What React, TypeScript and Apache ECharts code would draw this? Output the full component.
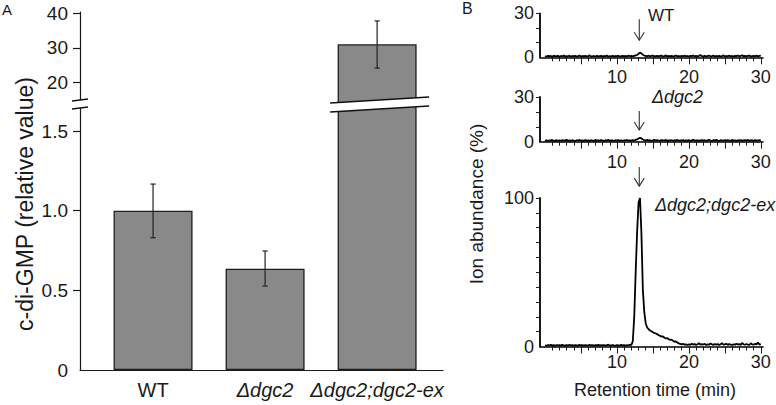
import React, { useEffect, useRef } from 'react';
import * as echarts from 'echarts';

// ---------------- data ----------------
const categories = ['WT', 'Δdgc2', 'Δdgc2;dgc2-ex'];
const barValues = [1.0, 0.636, 31.07];
const errorLow = [0.83, 0.527, 24.2];
const errorHigh = [1.167, 0.747, 37.8];

const lowerTickValues = [0, 0.5, 1.0, 1.5];
const upperTickValues = [20, 30, 40];

// chromatograms: one sample every 0.2 min from 0 to 30 min (% ion abundance)
const retentionStep = 0.2;
const wtAbundance = [
  0.8, 0.4, 1.1, 0.6, 0.9, 0.3, 1.2, 0.5, 0.8, 1.0,
  0.4, 0.9, 0.6, 1.3, 0.5, 0.8, 0.7, 1.1, 0.4, 0.9,
  0.6, 1.0, 0.5, 0.8, 1.2, 0.4, 0.9, 0.6, 1.0, 0.5,
  0.8, 1.3, 0.5, 0.7, 0.9, 0.4, 1.1, 0.6, 0.8, 1.0,
  0.5, 0.9, 0.7, 1.2, 0.4, 0.8, 0.6, 1.0, 0.5, 0.9,
  0.7, 1.1, 0.4, 0.8, 1.0, 0.6, 0.9, 0.5, 1.2, 0.7,
  0.9, 0.6, 1.0, 1.3, 1.6, 2.4, 3.2, 2.6, 1.8, 1.2,
  1.0, 0.7, 1.1, 0.6, 0.9, 1.2, 0.5, 0.8, 1.0, 0.6,
  0.9, 1.1, 0.5, 0.8, 1.3, 0.6, 0.9, 0.7, 1.0, 0.5,
  0.8, 1.2, 0.6, 0.9, 0.5, 1.0, 0.7, 1.1, 0.6, 0.9,
  0.5, 1.0, 0.8, 1.2, 0.6, 0.9, 0.7, 1.0, 1.5, 0.8,
  0.6, 1.0, 0.5, 0.9, 1.1, 0.7, 0.8, 1.2, 0.5, 0.9,
  0.7, 1.0, 0.6, 0.8, 1.3, 0.5, 0.9, 0.7, 1.1, 0.6,
  0.9, 0.5, 1.0, 0.8, 1.2, 0.6, 0.9, 1.4, 0.7, 1.0,
  0.6, 0.9, 1.2, 0.5, 0.8, 1.0, 0.7, 1.3, 0.6, 0.9, 1.1,
];
const dgc2Abundance = [
  0.6, 1.0, 0.5, 0.9, 0.7, 1.2, 0.4, 0.8, 1.0, 0.6,
  0.9, 0.5, 1.1, 0.7, 0.8, 1.3, 0.5, 0.9, 0.6, 1.0,
  0.7, 0.5, 1.0, 0.8, 1.2, 0.6, 0.9, 0.4, 1.1, 0.7,
  0.9, 0.6, 1.0, 0.8, 0.5, 1.2, 0.7, 0.9, 0.6, 1.1,
  0.8, 0.5, 1.0, 0.7, 1.3, 0.6, 0.9, 0.8, 0.5, 1.0,
  0.7, 1.1, 0.6, 0.9, 0.5, 1.0, 0.8, 1.2, 0.6, 0.9,
  0.7, 1.0, 0.8, 1.2, 1.5, 2.1, 2.6, 2.2, 1.5, 1.1,
  0.9, 1.2, 0.7, 1.0, 0.6, 0.9, 1.3, 0.7, 1.0, 0.8,
  0.6, 1.1, 0.9, 0.7, 1.2, 0.5, 0.9, 0.8, 1.0, 0.6,
  1.0, 0.7, 1.2, 0.6, 0.9, 0.8, 1.1, 0.5, 0.9, 0.7,
  1.0, 0.6, 0.9, 1.2, 0.7, 0.8, 1.0, 0.5, 0.9, 1.1,
  0.7, 1.0, 0.6, 0.9, 1.3, 0.8, 0.6, 1.0, 0.7, 1.2,
  0.8, 0.5, 1.0, 0.9, 0.6, 1.1, 0.7, 1.0, 0.8, 0.6,
  1.2, 0.7, 0.9, 0.5, 1.0, 0.8, 1.1, 0.6, 0.9, 1.0,
  0.7, 1.2, 0.6, 0.9, 1.0, 0.5, 1.1, 0.8, 0.7, 1.0, 0.9,
];
const dgc2ExAbundance = [
  0.8, 0.5, 1.0, 0.7, 1.2, 0.6, 0.9, 0.4, 1.0, 0.7,
  0.9, 0.6, 1.1, 0.5, 0.8, 1.0, 0.6, 1.2, 0.7, 0.9,
  0.5, 1.0, 0.8, 0.6, 1.1, 0.7, 0.9, 0.5, 1.0, 0.8,
  0.6, 1.2, 0.7, 0.9, 0.5, 1.0, 0.8, 1.1, 0.6, 0.9,
  0.7, 1.0, 0.5, 0.9, 1.2, 0.6, 0.8, 1.0, 0.7, 0.5,
  1.0, 0.8, 0.6, 1.1, 0.7, 0.9, 0.5, 1.0, 0.8, 1.2,
  1.0, 3.5, 20, 50, 77, 97, 100, 76, 38, 23,
  15.5, 12.8, 11.6, 10.8, 10.2, 9.6, 9.0, 8.8, 8.3, 7.6,
  7.2, 6.6, 6.8, 5.9, 5.4, 5.6, 4.9, 4.4, 4.6, 3.8,
  3.2, 3.4, 2.6, 2.1, 1.7, 1.4, 1.8, 1.2, 1.5, 1.0,
  1.4, 1.1, 1.8, 1.3, 1.6, 1.0, 1.5, 2.2, 1.2, 1.6,
  1.3, 1.8, 1.0, 1.5, 1.2, 2.0, 1.4, 1.1, 1.7, 1.3,
  1.6, 1.0, 1.5, 2.3, 1.2, 1.4, 1.8, 1.1, 1.6, 1.3,
  1.0, 1.5, 1.2, 1.9, 1.3, 1.6, 1.1, 2.4, 1.4, 1.2,
  1.7, 1.3, 1.0, 2.1, 1.5, 1.2, 1.8, 1.4, 2.6, 1.3, 1.6,
];
const chromatograms = [wtAbundance, dgc2Abundance, dgc2ExAbundance];

const timeLabelValues = [10, 20, 30];
const timeMajorTicks = [5, 10, 15, 20, 25, 30];
const timeMinorTicks = [1, 2, 3, 4, 5, 6, 7, 8, 9, 10, 11, 12, 13, 14, 15, 16, 17, 18, 19, 20, 21, 22, 23, 24, 25, 26, 27, 28, 29, 30];
const smallAbundanceTicks = [10, 20, 30];
const largeAbundanceTicks = [10, 20, 30, 40, 50, 60, 70, 80, 90, 100];
const abundanceMaxima = [30, 30, 100];
const peakArrowTime = 13.1;

// ---------------- layout ----------------
const FONT = '"Liberation Sans", Arial, Helvetica, sans-serif';
const INK = '#1a1a1a';
const A_LEFT = 80;
const A_WIDTH = 363;
const A_UP_TOP = 12;
const A_UP_BOTTOM = 103;
const A_LO_TOP = 106;
const A_LO_BOTTOM = 370;
const A_X_MIN = -0.652;
const A_X_MAX = 2.588;
const A_UP_MIN = 14.15;
const A_UP_MAX = 40.37;
const A_LO_MAX = 1.657;
const B_LEFT = 540;
const B_WIDTH = 223;
const B_X_MIN = -0.7;
const B_X_MAX = 30.3;
const B_PANELS = [
  { top: 13.3, bottom: 57.3, arrowTip: 11.6, arrowLen: 21, labelMargin: 11 },
  { top: 97, bottom: 141.7, arrowTip: 7.9, arrowLen: 19, labelMargin: 11 },
  { top: 198, bottom: 346.5, arrowTip: 108, arrowLen: 19, labelMargin: 6 },
];

function labelStyle(size: number) {
  return { color: INK, fontSize: size, fontFamily: FONT };
}

function errorRender(params: any, api: any) {
  const x = api.value(0);
  const lo = api.value(1);
  const hi = api.value(2);
  const top = api.coord([x, hi]);
  const bot = api.coord([x, lo]);
  const cap = 2.6;
  const style = { stroke: '#222', lineWidth: 1.2 };
  return {
    type: 'group',
    children: [
      { type: 'line', shape: { x1: top[0], y1: top[1], x2: bot[0], y2: bot[1] }, style },
      { type: 'line', shape: { x1: top[0] - cap, y1: top[1], x2: top[0] + cap, y2: top[1] }, style },
      { type: 'line', shape: { x1: bot[0] - cap, y1: bot[1], x2: bot[0] + cap, y2: bot[1] }, style },
    ],
  };
}

function buildOption() {
  const grids: any[] = [
    { left: A_LEFT, top: A_UP_TOP, width: A_WIDTH, height: A_UP_BOTTOM - A_UP_TOP, containLabel: false, outerBoundsMode: 'none' },
    { left: A_LEFT, top: A_LO_TOP, width: A_WIDTH, height: A_LO_BOTTOM - A_LO_TOP, containLabel: false, outerBoundsMode: 'none' },
  ];
  const xAxes: any[] = [
    { type: 'value', gridIndex: 0, min: A_X_MIN, max: A_X_MAX, show: false },
    {
      type: 'value', gridIndex: 1, min: A_X_MIN, max: A_X_MAX,
      axisLine: { show: true, onZero: false, lineStyle: { color: INK, width: 1.2 } },
      axisTick: { show: false },
      splitLine: { show: false },
      axisLabel: {
        ...labelStyle(20),
        margin: 10,
        customValues: categories.map((_, i) => i),
        formatter: (v: number) => {
          const name = categories[Math.round(v)] ?? '';
          return name.indexOf('Δ') === 0 ? `{it|${name}}` : name;
        },
        rich: { it: { ...labelStyle(20), fontStyle: 'italic' } },
      },
    },
  ];
  const yAxes: any[] = [
    {
      type: 'value', gridIndex: 0, min: A_UP_MIN, max: A_UP_MAX,
      axisLine: { show: true, onZero: false, lineStyle: { color: INK, width: 1.2 } },
      axisTick: { show: true, customValues: upperTickValues, length: 7, lineStyle: { color: INK, width: 1.2 } },
      axisLabel: { ...labelStyle(19), margin: 12, customValues: upperTickValues },
      splitLine: { show: false },
    },
    {
      type: 'value', gridIndex: 1, min: 0, max: A_LO_MAX,
      axisLine: { show: true, onZero: false, lineStyle: { color: INK, width: 1.2 } },
      axisTick: { show: true, customValues: lowerTickValues.filter((v) => v > 0), length: 7, lineStyle: { color: INK, width: 1.2 } },
      axisLabel: {
        ...labelStyle(19), margin: 12, customValues: lowerTickValues,
        formatter: (v: number) => (v === 0 ? '0' : v.toFixed(1)),
      },
      splitLine: { show: false },
    },
  ];

  const series: any[] = [
    {
      type: 'bar', xAxisIndex: 1, yAxisIndex: 1, barWidth: 79, clip: true, silent: true,
      data: barValues.map((v, i) => [i, v]),
      itemStyle: { color: '#898989', borderColor: '#1e1e1e', borderWidth: 1.3 },
    },
    {
      type: 'bar', xAxisIndex: 0, yAxisIndex: 0, barWidth: 79, clip: true, silent: true,
      data: barValues.map((v, i) => [i, v]).filter((d) => d[1] > A_UP_MIN),
      itemStyle: { color: '#898989', borderColor: '#1e1e1e', borderWidth: 1.3 },
    },
    {
      type: 'custom', xAxisIndex: 1, yAxisIndex: 1, z: 5, silent: true,
      renderItem: errorRender,
      data: barValues.map((_, i) => [i, errorLow[i], errorHigh[i]]).filter((d) => d[2] <= A_LO_MAX),
    },
    {
      type: 'custom', xAxisIndex: 0, yAxisIndex: 0, z: 5, silent: true,
      renderItem: errorRender,
      data: barValues.map((_, i) => [i, errorLow[i], errorHigh[i]]).filter((d) => d[1] >= A_UP_MIN),
    },
  ];

  B_PANELS.forEach((p, k) => {
    const g = 2 + 2 * k;
    const max = abundanceMaxima[k];
    const ticks = max > 30 ? largeAbundanceTicks : smallAbundanceTicks;
    const rect = { left: B_LEFT, top: p.top, width: B_WIDTH, height: p.bottom - p.top, containLabel: false, outerBoundsMode: 'none' };
    grids.push({ ...rect }, { ...rect });
    xAxes.push(
      {
        type: 'value', gridIndex: g, min: B_X_MIN, max: B_X_MAX,
        axisLine: { show: true, onZero: false, lineStyle: { color: '#000', width: 1.6 } },
        axisTick: { show: true, customValues: timeMajorTicks, length: 7, lineStyle: { color: INK, width: 1 } },
        axisLabel: { ...labelStyle(18), margin: p.labelMargin, customValues: timeLabelValues },
        splitLine: { show: false },
      },
      {
        type: 'value', gridIndex: g + 1, min: B_X_MIN, max: B_X_MAX,
        axisLine: { show: false, onZero: false },
        axisTick: { show: true, customValues: timeMinorTicks, length: 4, lineStyle: { color: INK, width: 1 } },
        axisLabel: { show: false },
        splitLine: { show: false },
      }
    );
    yAxes.push(
      {
        type: 'value', gridIndex: g, min: 0, max,
        axisLine: { show: true, onZero: false, lineStyle: { color: '#000', width: 1.8 } },
        axisTick: { show: true, customValues: ticks, length: 4, lineStyle: { color: INK, width: 1 } },
        axisLabel: { ...labelStyle(18), margin: 6, customValues: [0, max] },
        splitLine: { show: false },
      },
      { type: 'value', gridIndex: g + 1, min: 0, max: 1, show: false }
    );
    series.push({
      type: 'line', xAxisIndex: g, yAxisIndex: g, silent: true,
      showSymbol: false, symbol: 'none', clip: true,
      lineStyle: { color: '#000', width: 1.8 },
      data: chromatograms[k].map((v, i) => [i * retentionStep, v]),
    });
  });

  return {
    animation: false,
    backgroundColor: '#fff',
    textStyle: { fontFamily: FONT },
    grid: grids,
    xAxis: xAxes,
    yAxis: yAxes,
    series,
  };
}

function buildOverlay(chart: any) {
  const els: any[] = [];
  const white = { fill: '#fff' };
  const ink = { stroke: '#111', lineWidth: 1.4 };
  // break on the y axis of panel A
  const yx = A_LEFT;
  els.push({ type: 'polygon', z: 100, shape: { points: [[yx - 8, 101], [yx + 8, 99], [yx + 8, 107], [yx - 8, 109]] }, style: white });
  els.push({ type: 'line', z: 101, shape: { x1: yx - 8, y1: 101, x2: yx + 8, y2: 99 }, style: ink });
  els.push({ type: 'line', z: 101, shape: { x1: yx - 8, y1: 109, x2: yx + 8, y2: 107 }, style: ink });
  // break on the tall bar
  const cx = chart.convertToPixel({ xAxisIndex: 1 }, 2) as number;
  const l = cx - 47;
  const r = cx + 52;
  els.push({
    type: 'polygon', z: 100,
    shape: { points: [[l, A_UP_BOTTOM], [r, A_UP_BOTTOM - 6], [r, A_LO_TOP], [l, A_LO_TOP + 6]] },
    style: white,
  });
  els.push({ type: 'line', z: 101, shape: { x1: l, y1: A_UP_BOTTOM, x2: r, y2: A_UP_BOTTOM - 6 }, style: ink });
  els.push({ type: 'line', z: 101, shape: { x1: l, y1: A_LO_TOP + 6, x2: r, y2: A_LO_TOP }, style: ink });

  // arrows above the peaks
  B_PANELS.forEach((p, k) => {
    const g = 2 + 2 * k;
    const tip = chart.convertToPixel({ xAxisIndex: g, yAxisIndex: g }, [peakArrowTime, p.arrowTip]) as number[];
    const st = { stroke: '#333', lineWidth: 1.1, fill: 'none' };
    els.push({ type: 'line', z: 100, shape: { x1: tip[0], y1: tip[1] - p.arrowLen, x2: tip[0], y2: tip[1] }, style: st });
    els.push({
      type: 'polyline', z: 100,
      shape: { points: [[tip[0] - 5, tip[1] - 8], [tip[0], tip[1]], [tip[0] + 5, tip[1] - 8]] },
      style: st,
    });
  });

  const txt = (x: number, y: number, text: string, size: number, extra: any = {}, rot = 0) => ({
    type: 'text', x, y, rotation: rot, z: 100,
    style: { text, fill: INK, fontSize: size, fontFamily: FONT, align: 'left', verticalAlign: 'middle', ...extra },
  });
  els.push(txt(2, 9, 'A', 15));
  els.push(txt(462, 8, 'B', 16));
  els.push(txt(25, 204, 'c-di-GMP (relative value)', 23, { align: 'center' }, Math.PI / 2));
  els.push(txt(476, 204, 'Ion abundance (%)', 19, { align: 'center' }, Math.PI / 2));
  els.push(txt(655, 390, 'Retention time (min)', 18, { align: 'center' }));
  els.push(txt(648, 15, categories[0], 17));
  els.push(txt(652, 97, categories[1], 18, { fontStyle: 'italic' }));
  els.push(txt(655, 205, categories[2], 18, { fontStyle: 'italic' }));
  return els;
}

export default function App() {
  const ref = useRef<HTMLDivElement>(null);
  useEffect(() => {
    const el = ref.current;
    if (!el) return;
    const chart = echarts.init(el, null, { renderer: 'svg' });
    chart.setOption(buildOption() as any);
    chart.setOption({ graphic: { elements: buildOverlay(chart) } } as any);
    return () => chart.dispose();
  }, []);
  return (
    <div
      ref={ref}
      style={{ position: 'fixed', left: 0, top: 0, width: 776, height: 405, background: '#fff' }}
    />
  );
}
